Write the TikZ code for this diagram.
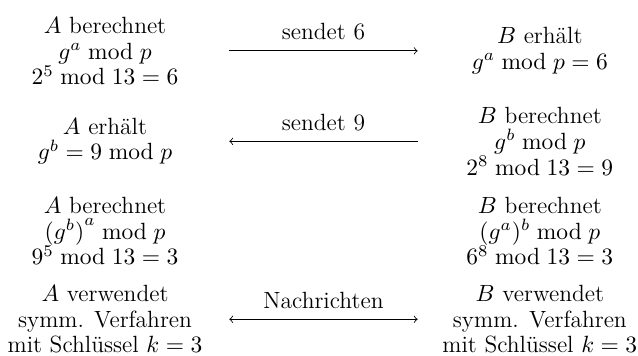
\documentclass[tikz,border=0pt]{standalone}
\usepackage{fix-cm}
\usepackage{amsmath}
\usepackage{tikz}
\tikzset{txt/.style={font=\fontsize{11.3}{12.3}\selectfont},partA/.style={txt,align=center,minimum width=4.19cm},partB/.style={txt,align=center,minimum width=4.12cm},msg/.style={->},lab/.style={txt,above=1.5pt}}
\begin{document}
\begin{tikzpicture}[x=1cm,y=1cm]
\path[use as bounding box] (0,0) rectangle (10.79,-6.02);
% Alice
\node[partA] (a1) at (1.776,-.86) {$A$ berechnet\\$g^a \bmod p$\\$2^5 \bmod 13 = 6$};
\node[partA] (a2) at (1.776,-2.39) {$A$ erhält\\$g^b = 9 \bmod p$};
\node[partA] (a3) at (1.776,-3.91) {$A$ berechnet\\${(g^b)}^a \bmod p$\\$9^5 \bmod 13 = 3$};
\node[partA] (a4) at (1.776,-5.40) {$A$ verwendet\\symm. Verfahren\\mit Schlüssel $k=3$};
% Bob
\node[partB] (b1) at (9.13,-.86) {$B$ erhält\\$g^a \bmod p = 6$};
\node[partB] (b2) at (9.13,-2.39) {$B$ berechnet\\$g^b \bmod p$\\$2^8 \bmod 13 = 9$};
\node[partB] (b3) at (9.13,-3.91) {$B$ berechnet\\$(g^a)^b \bmod p$\\$6^8 \bmod 13 = 3$};
\node[partB] (b4) at (9.13,-5.40) {$B$ verwendet\\symm. Verfahren\\mit Schlüssel $k=3$};
% messages
\draw[msg] (a1) -- node[lab] {sendet 6} (b1);
\draw[msg] (b2) -- node[lab] {sendet 9} (a2);
\draw[msg,<->] (a4) -- node[lab] {Nachrichten} (b4);
\end{tikzpicture}
\end{document}
